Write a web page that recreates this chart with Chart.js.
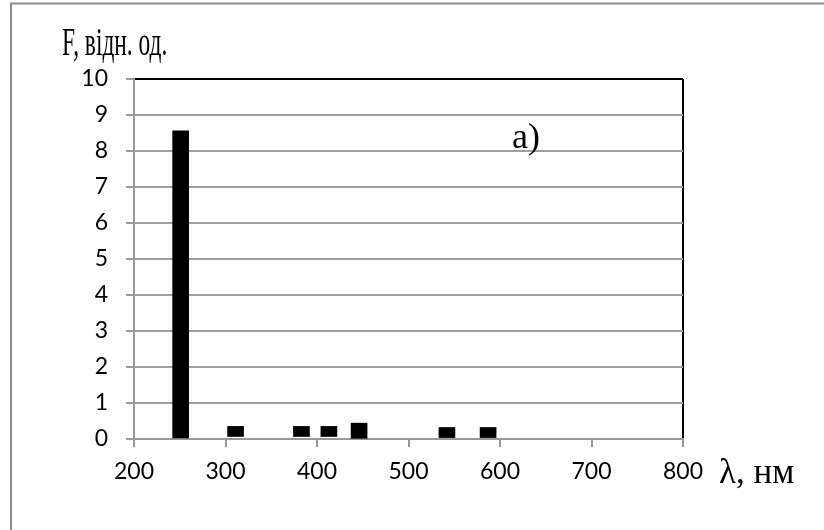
<!DOCTYPE html>
<html>
<head>
<meta charset="utf-8">
<script src="https://cdn.jsdelivr.net/npm/chart.js@4.4.1/dist/chart.umd.min.js"></script>
<style>
  html, body { margin: 0; padding: 0; background: #fff; }
  #wrap { width: 824px; height: 530px; position: relative; }
</style>
</head>
<body>
<div id="wrap"><canvas id="spectrum"></canvas></div>
<script>
// wavelengths (nm) and bar extents
var wavelengths = [251, 311, 383, 413, 446, 542, 587];
var barLow = [0, 0.07, 0.07, 0.07, 0.02, 0.04, 0.04];
var barHigh = [8.56, 0.35, 0.35, 0.35, 0.44, 0.32, 0.32];
var xTicks = [200, 300, 400, 500, 600, 700, 800];
var yTicks = [0, 1, 2, 3, 4, 5, 6, 7, 8, 9, 10];

var yTitle = 'F, відн. од.';
var xTitle = 'λ, нм';
var panelLabel = 'а)';

var points = wavelengths.map(function (w, i) {
    return { x: w, y: [barLow[i], barHigh[i]] };
});

// frame + serif captions drawn on top of the chart
var captions = {
    id: 'captions',
    afterDraw: function (chart) {
        var ctx = chart.ctx;
        ctx.save();
        ctx.strokeStyle = '#8c8c8c';
        ctx.lineWidth = 2;
        ctx.beginPath();
        ctx.moveTo(11, 530);
        ctx.lineTo(11, 3.5);
        ctx.lineTo(824, 3.5);
        ctx.stroke();

        ctx.fillStyle = '#000';
        ctx.textBaseline = 'alphabetic';
        // axis title is condensed in the original
        ctx.save();
        ctx.translate(62, 55);
        ctx.scale(0.6, 1);
        ctx.font = '39px "Liberation Serif"';
        ctx.fillText(yTitle, 0, 0);
        ctx.restore();

        ctx.font = '35px "Liberation Serif"';
        ctx.fillText(xTitle, 719, 483);
        ctx.font = '36px "Liberation Serif"';
        ctx.fillText(panelLabel, 512, 148);
        ctx.restore();
    }
};

var spectrumCtx = document.getElementById('spectrum').getContext('2d');
window.spectrumBar = new Chart(spectrumCtx, {
    type: 'bar',
    data: {
        datasets: [{
            data: points,
            backgroundColor: '#000',
            borderWidth: 0,
            barThickness: 16
        }]
    },
    options: {
        responsive: true,
        maintainAspectRatio: false,
        animation: false,
        layout: { padding: { left: 0, right: 141, top: 79, bottom: 0 } },
        plugins: {
            legend: { display: false },
            tooltip: { enabled: false }
        },
        scales: {
            x: {
                type: 'linear',
                min: 200,
                max: 800,
                offset: false,
                afterBuildTicks: function (scale) {
                    scale.ticks = xTicks.map(function (v) { return { value: v }; });
                },
                afterFit: function (scale) { scale.height = 91; },
                grid: {
                    offset: false,
                    color: function (c) { return c.tick && c.tick.value === 800 ? '#000' : 'rgba(0,0,0,0)'; },
                    lineWidth: 2,
                    tickColor: '#999',
                    tickLength: 8
                },
                border: { color: '#999', width: 2 },
                ticks: {
                    color: '#000',
                    padding: 11,
                    maxRotation: 0,
                    font: { family: 'Lato', size: 23 }
                }
            },
            y: {
                min: 0,
                max: 10,
                afterBuildTicks: function (scale) {
                    scale.ticks = yTicks.map(function (v) { return { value: v }; });
                },
                afterFit: function (scale) { scale.width = 134; },
                grid: {
                    color: function (c) { return c.tick && c.tick.value === 10 ? '#000' : '#a0a0a0'; },
                    lineWidth: 2,
                    tickColor: '#999',
                    tickLength: 8
                },
                border: { color: '#999', width: 2 },
                ticks: {
                    color: '#000',
                    padding: 18,
                    font: { family: 'Lato', size: 23 }
                }
            }
        }
    },
    plugins: [captions]
});
</script>
</body>
</html>
